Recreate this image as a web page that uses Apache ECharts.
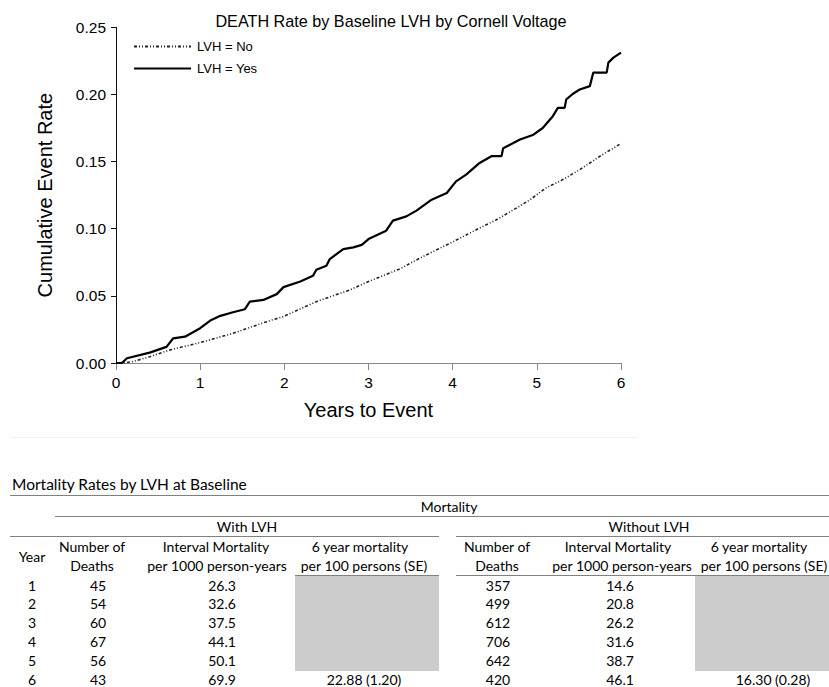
<!DOCTYPE html>
<html>
<head>
<meta charset="utf-8">
<script src="https://cdn.jsdelivr.net/npm/echarts@6/dist/echarts.min.js"></script>
<style>
html,body{margin:0;padding:0;background:#fff;}
#chart{width:829px;height:687px;}
</style>
</head>
<body>
<div id="chart"></div>
<script>
// ---- Plot data ----
const seriesNames = ['LVH = No', 'LVH = Yes'];
const xTicks = [0, 1, 2, 3, 4, 5, 6];
const yTicks = [0.00, 0.05, 0.10, 0.15, 0.20, 0.25];

const lvhNo = [[0,0],[0.10,0],[0.21,0.0012],[0.40,0.0047],[0.64,0.0097],[1.00,0.0152],[1.39,0.0221],
  [1.79,0.0308],[1.99,0.0346],[2.38,0.0457],[2.78,0.0545],[3.00,0.0607],[3.37,0.0700],[3.61,0.0781],
  [4.01,0.0905],[4.32,0.1005],[4.52,0.1067],[4.72,0.1140],[4.92,0.1216],[5.11,0.1304],[5.31,0.1366],
  [5.51,0.1440],[5.75,0.1540],[6.00,0.1635]];

const lvhYes = [[0,0],[0.07,0],[0.13,0.0035],[0.40,0.0077],[0.60,0.0120],[0.68,0.0184],[0.82,0.0196],
  [1.00,0.0259],[1.12,0.0316],[1.24,0.0351],[1.39,0.0378],[1.53,0.0400],[1.59,0.0457],[1.75,0.0470],
  [1.91,0.0513],[1.99,0.0565],[2.19,0.0607],[2.34,0.0649],[2.38,0.0694],[2.50,0.0724],[2.54,0.0774],
  [2.70,0.0848],[2.82,0.0861],[2.92,0.0880],[3.00,0.0923],[3.21,0.0985],[3.29,0.1060],[3.45,0.1092],
  [3.57,0.1135],[3.75,0.1216],[3.93,0.1266],[4.04,0.1353],[4.16,0.1403],[4.32,0.1490],[4.46,0.1540],
  [4.58,0.1540],[4.60,0.1600],[4.80,0.1664],[4.96,0.1700],[5.07,0.1750],[5.19,0.1838],[5.25,0.1900],
  [5.33,0.1900],[5.35,0.1963],[5.43,0.2005],[5.51,0.2037],[5.63,0.2062],[5.67,0.2162],[5.83,0.2162],
  [5.85,0.2237],[5.91,0.2274],[6.00,0.2311]];

// ---- Table data ----
const tableTitle = 'Mortality Rates by LVH at Baseline';
const years = [1, 2, 3, 4, 5, 6];
const deathsWith = [45, 54, 60, 67, 56, 43];
const rateWith = [26.3, 32.6, 37.5, 44.1, 50.1, 69.9];
const sixYearWith = '22.88 (1.20)';
const deathsWithout = [357, 499, 612, 706, 642, 420];
const rateWithout = [14.6, 20.8, 26.2, 31.6, 38.7, 46.1];
const sixYearWithout = '16.30 (0.28)';

// ---- Table layout ----
const TF = 'Lato, "Open Sans", sans-serif';
const TS = 14;
const lineCol = '#808080';
const greyFill = '#cccccc';
const colX = { year: 32, dW: 98, rW: 222, sW: 364, dWo: 498, rWo: 620, sWo: 773 };
const rowY0 = 585, rowH = 18.8;

const g = [];
function txt(x, y, s, opts) {
  g.push(Object.assign({ type: 'text', x: x, y: y, silent: true,
    style: { text: s, fontFamily: TF, fontSize: TS, fill: '#000', align: 'center', verticalAlign: 'middle' } }, opts || {}));
}
function hline(x1, x2, y) {
  g.push({ type: 'line', silent: true, shape: { x1: x1, y1: y + 0.5, x2: x2, y2: y + 0.5 },
    style: { stroke: lineCol, lineWidth: 1 } });
}
// faint separator between plot and table
g.push({ type: 'line', silent: true, shape: { x1: 10, y1: 437.5, x2: 638, y2: 437.5 }, style: { stroke: '#f2f2f2', lineWidth: 1 } });
// grey boxes
g.push({ type: 'rect', silent: true, shape: { x: 295, y: 575, width: 144, height: 96 }, style: { fill: greyFill } });
g.push({ type: 'rect', silent: true, shape: { x: 695, y: 575, width: 134, height: 96 }, style: { fill: greyFill } });

txt(12, 484, tableTitle, { style: { text: tableTitle, fontFamily: TF, fontSize: 15.5, fill: '#000', align: 'left', verticalAlign: 'middle' } });
hline(10, 829, 495);
txt(449, 506, 'Mortality');
hline(55, 829, 516);
txt(247, 526.5, 'With LVH');
txt(649, 526.5, 'Without LVH');
hline(10, 439, 536);
hline(456, 829, 536);
txt(colX.year, 556, 'Year');
txt(92, 546.5, 'Number of'); txt(92, 565, 'Deaths');
txt(216, 546.5, 'Interval Mortality'); txt(217, 565, 'per 1000 person-years');
txt(360, 546.5, '6 year mortality'); txt(364, 565, 'per 100 persons (SE)');
txt(497, 546.5, 'Number of'); txt(497, 565, 'Deaths');
txt(618, 546.5, 'Interval Mortality'); txt(622, 565, 'per 1000 person-years');
txt(759, 546.5, '6 year mortality'); txt(764, 565, 'per 100 persons (SE)');
hline(295, 439, 575);
hline(456, 829, 575);

years.forEach(function (yr, i) {
  const y = rowY0 + i * rowH;
  txt(colX.year, y, String(yr));
  txt(colX.dW, y, String(deathsWith[i]));
  txt(colX.rW, y, rateWith[i].toFixed(1));
  txt(colX.dWo, y, String(deathsWithout[i]));
  txt(colX.rWo, y, rateWithout[i].toFixed(1));
  if (i === years.length - 1) {
    txt(colX.sW, y, sixYearWith);
    txt(colX.sWo, y, sixYearWithout);
  }
});

const chart = echarts.init(document.getElementById('chart'), null, { renderer: 'svg' });
const CF = '"Liberation Sans", Arial, sans-serif';
chart.setOption({
  animation: false,
  backgroundColor: '#fff',
  title: {
    text: 'DEATH Rate by Baseline LVH by Cornell Voltage',
    left: 386, top: 8, textAlign: 'center',
    textStyle: { fontFamily: CF, fontSize: 16.2, fontWeight: 'normal', color: '#000' }
  },
  legend: {
    orient: 'vertical', left: 128, top: 35, itemWidth: 57, itemHeight: 14, itemGap: 9,
    data: seriesNames,
    itemStyle: { opacity: 0 },
    textStyle: { fontFamily: CF, fontSize: 13, color: '#000', padding: [0, 0, 0, 1] }
  },
  grid: { left: 116, top: 27.3, width: 505, height: 335.7, containLabel: false },
  xAxis: {
    type: 'value', min: xTicks[0], max: xTicks[xTicks.length - 1], interval: 1,
    name: 'Years to Event', nameLocation: 'middle', nameGap: 37,
    nameTextStyle: { fontFamily: CF, fontSize: 20, color: '#000' },
    axisLine: { show: true, lineStyle: { color: '#888', width: 1 } },
    axisTick: { show: true, length: 7, lineStyle: { color: '#888' } },
    axisLabel: { fontFamily: CF, fontSize: 15.5, color: '#000', margin: 11 },
    splitLine: { show: false }
  },
  yAxis: {
    type: 'value', min: yTicks[0], max: yTicks[yTicks.length - 1], interval: 0.05,
    name: 'Cumulative Event Rate', nameLocation: 'middle', nameGap: 61,
    nameTextStyle: { fontFamily: CF, fontSize: 20, color: '#000' },
    axisLine: { show: true, lineStyle: { color: '#111', width: 1 } },
    axisTick: { show: true, length: 5, lineStyle: { color: '#111' } },
    axisLabel: { fontFamily: CF, fontSize: 15.5, color: '#000', margin: 10,
      formatter: function (v) { return v.toFixed(2); } },
    splitLine: { show: false }
  },
  series: [
    { name: seriesNames[0], type: 'line', data: lvhNo, symbol: 'none', smooth: false,
      lineStyle: { color: '#222', width: 1.6, type: [3, 2, 1, 2, 1, 2] }, itemStyle: { color: '#222' } },
    { name: seriesNames[1], type: 'line', data: lvhYes, symbol: 'none', smooth: false,
      lineStyle: { color: '#000', width: 2.2, type: 'solid' }, itemStyle: { color: '#000' } }
  ],
  graphic: g
});
</script>
</body>
</html>
